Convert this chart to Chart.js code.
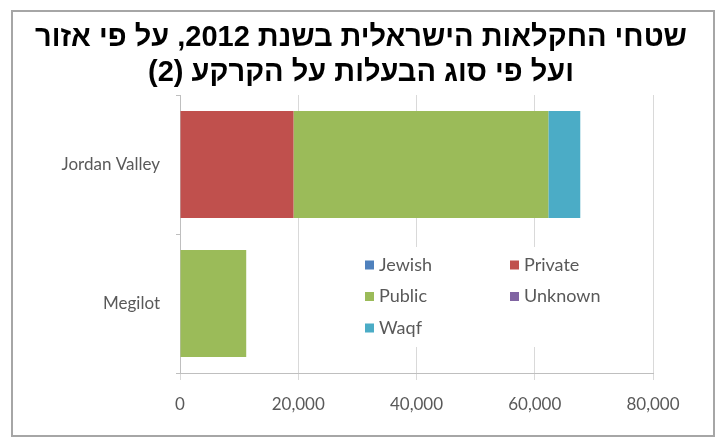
<!DOCTYPE html>
<html>
<head>
<meta charset="utf-8">
<script src="https://cdn.jsdelivr.net/npm/chart.js@4.4.1/dist/chart.umd.min.js"></script>
<style>
    html, body { margin: 0; padding: 0; background: #fff; }
    #wrap { width: 718px; height: 439px; position: relative; }
</style>
</head>
<body>
<div id="wrap"><canvas id="myChart"></canvas></div>
<script>
    var titleLines = ['שטחי החקלאות הישראלית בשנת 2012, על פי אזור', 'ועל פי סוג הבעלות על הקרקע (2)']
    var regions = ['Jordan Valley', 'Megilot']
    var seriesNames = ['Jewish', 'Private', 'Public', 'Unknown', 'Waqf']
    var jewish = [0, 0]
    var privateLand = [19200, 0]
    var publicLand = [43100, 11200]
    var unknown = [0, 0]
    var waqf = [5400, 0]
    var xTicks = [0, 20000, 40000, 60000, 80000]
    var colors = ['#4F81BD', '#C0504D', '#9BBB59', '#8064A2', '#4BACC6']

    var seriesValues = [jewish, privateLand, publicLand, unknown, waqf]
    var datasets = seriesNames.map(function(name, i) {
        return {
            label: name,
            data: seriesValues[i],
            backgroundColor: colors[i],
            borderWidth: 0,
            barPercentage: 0.77,
            categoryPercentage: 1
        }
    })

    // frame around the whole picture
    var framePlugin = {
        id: 'frame',
        beforeDraw: function(chart) {
            var ctx = chart.ctx
            ctx.save()
            ctx.fillStyle = '#fff'
            ctx.fillRect(0, 0, chart.width, chart.height)
            ctx.strokeStyle = '#a6a6a6'
            ctx.lineWidth = 2
            ctx.strokeRect(12, 11, 702, 425)
            ctx.restore()
        }
    }

    // hebrew title, drawn right-to-left
    var titlePlugin = {
        id: 'rtlTitle',
        afterDraw: function(chart) {
            var ctx = chart.ctx
            ctx.save()
            ctx.direction = 'rtl'
            ctx.textAlign = 'center'
            ctx.textBaseline = 'middle'
            ctx.fillStyle = '#000'
            ctx.font = 'bold 29px "Liberation Sans", Arial, sans-serif'
            ctx.fillText(titleLines[0], 361, 38)
            ctx.fillText(titleLines[1], 361, 73)
            ctx.restore()
        }
    }

    // legend sits inside the plot, two columns
    var legendPlugin = {
        id: 'innerLegend',
        afterDatasetsDraw: function(chart) {
            var ctx = chart.ctx
            var area = chart.chartArea
            var x0 = area.left + 185
            var colW = 145
            var y0 = area.top + 170
            var rowH = 31.5
            ctx.save()
            ctx.fillStyle = '#fff'
            ctx.fillRect(x0 - 10, y0 - 18, 255, 100)
            ctx.font = '18px Lato, "Open Sans", sans-serif'
            ctx.textBaseline = 'middle'
            ctx.textAlign = 'left'
            chart.data.datasets.forEach(function(ds, i) {
                var x = x0 + (i % 2) * colW
                var y = y0 + Math.floor(i / 2) * rowH
                ctx.fillStyle = ds.backgroundColor
                ctx.fillRect(x, y - 4.5, 9, 9)
                ctx.fillStyle = '#595959'
                ctx.fillText(ds.label, x + 14, y)
            })
            ctx.restore()
        }
    }

    var ctx = document.getElementById('myChart').getContext('2d');
    var myChart = new Chart(ctx, {
        type: 'bar',
        data: {
            labels: regions,
            datasets: datasets
        },
        options: {
            indexAxis: 'y',
            responsive: true,
            maintainAspectRatio: false,
            animation: false,
            layout: {
                padding: { top: 95, right: 65, bottom: 0, left: 0 }
            },
            plugins: {
                legend: { display: false },
                title: { display: false },
                tooltip: { enabled: false }
            },
            scales: {
                x: {
                    stacked: true,
                    min: 0,
                    max: 80000,
                    afterBuildTicks: function(scale) {
                        scale.ticks = xTicks.map(function(v) { return { value: v } })
                    },
                    afterFit: function(scale) { scale.height = 66 },
                    grid: { color: '#d9d9d9', tickLength: 7, drawTicks: true },
                    border: { color: '#bfbfbf' },
                    ticks: {
                        color: '#595959',
                        padding: 14,
                        font: { family: 'Lato', size: 17 },
                        callback: function(v) { return Number(v).toLocaleString('en-US') }
                    }
                },
                y: {
                    stacked: true,
                    afterFit: function(scale) { scale.width = 180 },
                    grid: { offset: true, drawOnChartArea: false, tickLength: 4, color: '#bfbfbf' },
                    border: { color: '#bfbfbf' },
                    ticks: {
                        color: '#595959',
                        padding: 16,
                        font: { family: 'Lato', size: 17 }
                    }
                }
            }
        },
        plugins: [framePlugin, legendPlugin, titlePlugin]
    });
</script>
</body>
</html>
